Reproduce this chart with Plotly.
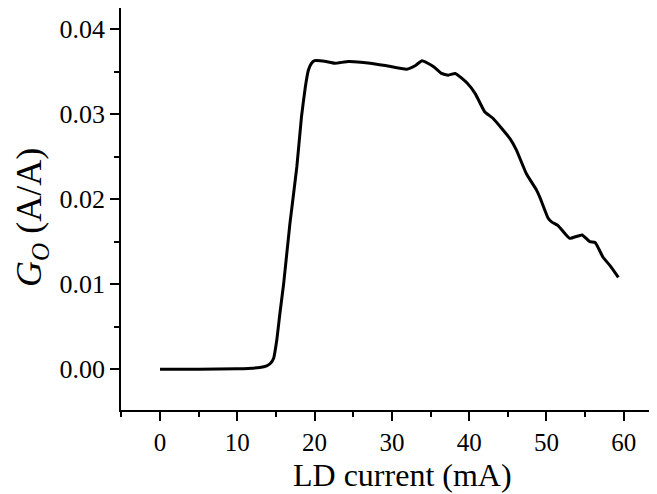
import plotly.graph_objects as go

current_mA = [0, 5, 10, 12.9, 13.8, 14.3, 14.7, 15.1, 15.5, 16.0, 16.8, 17.7, 18.3, 18.8,
              19.2, 19.6, 20.0, 20.7, 21.5, 22.6, 24.4, 27.2, 29.3, 31.9, 33.0, 33.9, 35.4,
              36.4, 37.3, 38.2, 39.7, 40.8, 42.0, 43.1, 45.3, 46.1, 47.4, 48.7, 49.2, 50.2,
              50.7, 51.5, 53.0, 54.6, 55.6, 56.3, 57.3, 58.3, 59.3]
gain = [0.0000, 0.0000, 0.00005, 0.0002, 0.0004, 0.0007, 0.0013, 0.0034, 0.0065, 0.0101,
        0.0171, 0.0238, 0.0297, 0.0332, 0.0352, 0.0360, 0.0363, 0.0363, 0.0362, 0.0360,
        0.0362, 0.0360, 0.0357, 0.0353, 0.0357, 0.0363, 0.0356, 0.0348, 0.0346, 0.0348,
        0.0337, 0.0324, 0.0303, 0.0295, 0.0271, 0.0258, 0.0230, 0.0211, 0.0201, 0.0178,
        0.0173, 0.0169, 0.0154, 0.0158, 0.0150, 0.0149, 0.0132, 0.0121, 0.0108]

x_ticks = [0, 10, 20, 30, 40, 50, 60]
y_ticks = [0.00, 0.01, 0.02, 0.03, 0.04]
x_title = "LD current (mA)"
y_title = "<i>G</i><sub><i>O</i></sub> (A/A)"

FONT = "'Liberation Serif', 'Times New Roman', serif"

fig = go.Figure()
fig.add_trace(go.Scatter(x=current_mA, y=gain, mode="lines",
                         line=dict(color="black", width=3, shape="spline", smoothing=0.4),
                         showlegend=False, hoverinfo="skip"))

# page body has an 8px default margin, so the figure is sized to fit the window
fig.update_layout(
    width=649, height=486,
    margin=dict(l=113, r=0, t=0, b=84),
    paper_bgcolor="white", plot_bgcolor="white",
    font=dict(family=FONT, color="black"),
)
fig.update_xaxes(
    range=[-5.05, 64.3], tickvals=x_ticks, ticktext=[str(v) for v in x_ticks],
    automargin=False,
    showgrid=False, zeroline=False, showline=True, linecolor="black", linewidth=1.5,
    ticks="outside", ticklen=9, tickwidth=1.5, tickcolor="black",
    tickfont=dict(family=FONT, size=25, color="black"),
    minor=dict(ticks="outside", ticklen=5, tickwidth=1.5, tickcolor="black", dtick=5, tick0=0),
)
fig.update_yaxes(
    range=[-0.0048, 0.0425], tickvals=y_ticks, ticktext=[f"{v:.2f}" for v in y_ticks],
    automargin=False,
    showgrid=False, zeroline=False, showline=True, linecolor="black", linewidth=1.5,
    ticks="outside", ticklen=9, tickwidth=1.5, tickcolor="black",
    tickfont=dict(family=FONT, size=26, color="black"),
    minor=dict(ticks="outside", ticklen=5, tickwidth=1.5, tickcolor="black", dtick=0.005, tick0=0),
)

fig.add_annotation(text=x_title, xref="paper", yref="paper", x=0.526, y=0,
                   xanchor="center", yanchor="middle", yshift=-65, showarrow=False,
                   font=dict(family=FONT, size=32, color="black"))
fig.add_annotation(text=y_title, xref="paper", yref="paper", x=0, y=0.4776,
                   xanchor="center", yanchor="middle", xshift=-90, textangle=-90,
                   showarrow=False, font=dict(family=FONT, size=36, color="black"))

fig.write_html("out.html")
